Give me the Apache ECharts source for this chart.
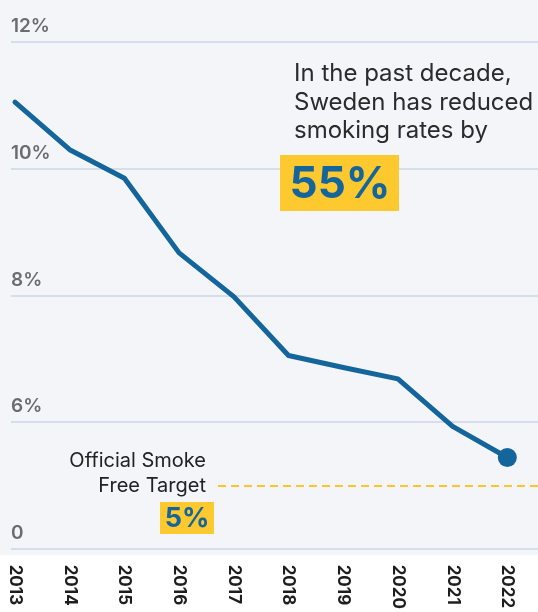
<!DOCTYPE html>
<html>
<head>
<meta charset="utf-8">
<script src="https://cdn.jsdelivr.net/npm/echarts@6/dist/echarts.min.js"></script>
<style>
  html, body { margin: 0; padding: 0; }
  #chart {
    width: 538px; height: 612px;
    background: linear-gradient(#f3f5f8 0, #f3f5f8 555px, #ffffff 555px);
  }
</style>
</head>
<body>
<div id="chart"></div>
<script>
// Daily smoking rate in Sweden, 2013–2022 (% of adults)
const years = [2013, 2014, 2015, 2016, 2017, 2018, 2019, 2020, 2021, 2022];
const smokingRate = [11.05, 10.3, 9.85, 8.67, 7.98, 7.05, 6.86, 6.68, 5.93, 5.44];
const yTickValues = [0, 6, 8, 10, 12];
const targetRate = 5;
const reductionText = '55%';

const chart = echarts.init(document.getElementById('chart'), null, { renderer: 'canvas' });
const lastIndex = years.length - 1;

const option = {
  backgroundColor: 'transparent',
  animation: false,
  grid: { left: 11, right: 0, top: 42, bottom: 58 },
  xAxis: {
    type: 'value',
    min: 2012.927,
    max: 2022.561,
    axisLine: { show: false },
    axisTick: { show: false },
    splitLine: { show: false },
    axisLabel: {
      customValues: years,
      rotate: -90,
      margin: 16,
      color: '#1e1e1e',
      fontFamily: 'Inter',
      fontWeight: 'bold',
      fontSize: 17,
      formatter: v => String(v)
    }
  },
  yAxis: {
    type: 'value',
    min: 0,
    max: 12,
    interval: 2,
    // the empty range between 0 and 4 is collapsed
    breaks: [{ start: 0, end: 4, gap: 0 }],
    breakArea: { show: false },
    axisLine: { show: false },
    axisTick: { show: false },
    splitLine: { lineStyle: { color: '#cdd6e9', width: 1.5 } },
    axisLabel: {
      inside: true,
      margin: 0,
      verticalAlign: 'bottom',
      padding: [0, 0, 6, 0],
      color: '#6c6c6c',
      fontFamily: 'Inter',
      fontWeight: 600,
      fontSize: 19,
      formatter: v => {
        if (!yTickValues.includes(v)) return '';
        return v === 0 ? '0' : v + '%';
      }
    }
  },
  series: [
    {
      // official smoke-free target
      type: 'line',
      data: [],
      z: 1,
      silent: true,
      markLine: {
        silent: true,
        symbol: 'none',
        label: { show: false },
        lineStyle: { color: '#fdc52c', type: [8, 5], width: 2 },
        data: [[{ x: 218, yAxis: targetRate }, { x: 538, yAxis: targetRate }]]
      }
    },
    {
      type: 'line',
      z: 3,
      data: years.map((y, i) => [y, smokingRate[i]]),
      symbol: 'circle',
      showSymbol: true,
      symbolSize: (val, params) => (params.dataIndex === lastIndex ? 19 : 0),
      itemStyle: { color: '#13659b' },
      lineStyle: { color: '#13659b', width: 5, cap: 'round', join: 'round' }
    }
  ],
  graphic: [
    {
      type: 'text',
      left: 294,
      top: 60,
      style: {
        text: 'In the past decade,\nSweden has reduced\nsmoking rates by',
        fill: '#2b2b2b',
        font: '400 24px Inter',
        lineHeight: 28.5
      }
    },
    {
      type: 'rect',
      shape: { x: 280, y: 155, width: 119, height: 56 },
      style: { fill: '#fec82f' },
      z: 10
    },
    {
      type: 'text',
      x: 340,
      y: 185,
      z: 11,
      style: {
        text: reductionText,
        fill: '#14659b',
        font: 'bold 44px Inter',
        align: 'center',
        verticalAlign: 'middle'
      }
    },
    {
      type: 'text',
      x: 206,
      y: 448,
      style: {
        text: 'Official Smoke\nFree Target',
        fill: '#222222',
        font: '400 20px Inter',
        lineHeight: 25.5,
        align: 'right',
        verticalAlign: 'top'
      }
    },
    {
      type: 'rect',
      shape: { x: 160, y: 502, width: 54, height: 32 },
      style: { fill: '#fec82f' },
      z: 10
    },
    {
      type: 'text',
      x: 187,
      y: 519,
      z: 11,
      style: {
        text: targetRate + '%',
        fill: '#14659b',
        font: 'bold 27px Inter',
        align: 'center',
        verticalAlign: 'middle'
      }
    }
  ]
};

chart.setOption(option);
</script>
</body>
</html>
